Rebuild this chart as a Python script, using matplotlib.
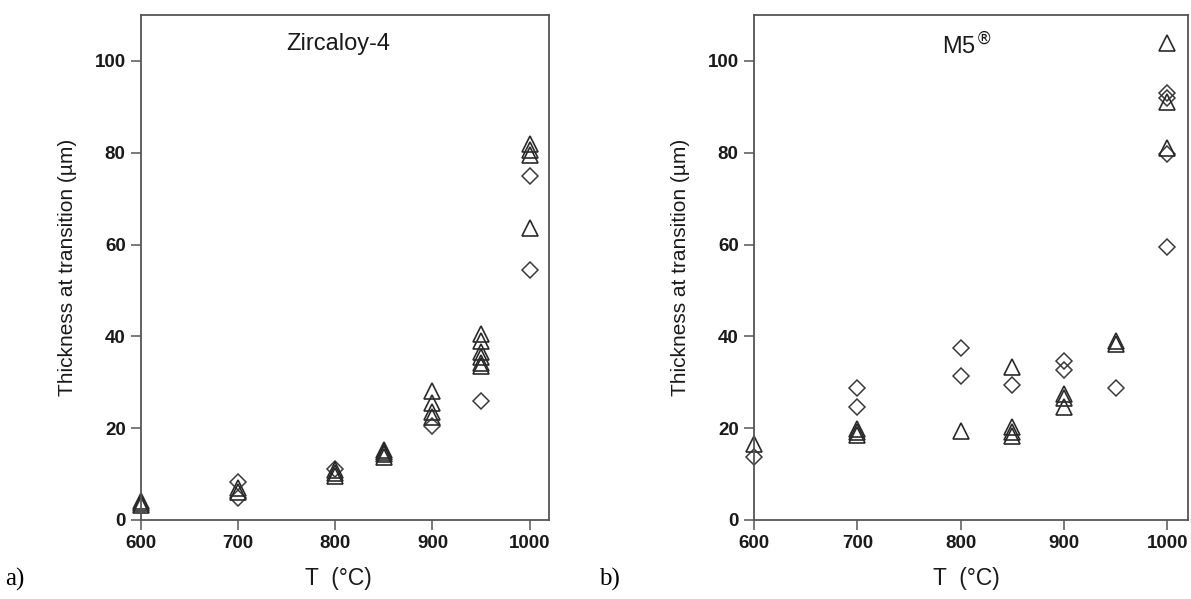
import matplotlib.pyplot as plt

plt.rcParams["font.family"] = ["Liberation Sans", "DejaVu Sans"]

# Zircaloy-4 panel
zy_tri_T = [600, 600, 600, 700, 700, 800, 800, 800, 850, 850, 850, 850,
            900, 900, 900, 900, 950, 950, 950, 950, 950, 950, 1000, 1000, 1000, 1000]
zy_tri_v = [3.2, 3.8, 4.2, 6.2, 7.0, 9.6, 10.2, 10.8, 13.8, 14.3, 14.8, 15.3,
            28.0, 25.5, 23.5, 22.5, 40.5, 39.0, 36.5, 35.5, 34.2, 33.5, 82.0, 80.5, 79.5, 63.5]
zy_dia_T = [700, 700, 800, 900, 950, 1000, 1000]
zy_dia_v = [8.2, 4.8, 11.0, 20.5, 26.0, 75.0, 54.5]

# M5 panel
m5_tri_T = [600, 700, 700, 700, 800, 850, 850, 850, 850, 900, 900, 900, 950, 950, 1000, 1000, 1000]
m5_tri_v = [16.5, 18.6, 19.2, 19.8, 19.3, 33.3, 20.3, 19.2, 18.4, 27.5, 26.5, 24.6, 38.9, 38.3,
            103.8, 91.0, 81.0]
m5_dia_T = [600, 700, 700, 800, 800, 850, 900, 900, 950, 1000, 1000, 1000, 1000]
m5_dia_v = [13.8, 28.8, 24.6, 37.5, 31.3, 29.3, 34.6, 32.6, 28.8, 93.0, 92.0, 79.8, 59.5]

panels = [
    (zy_tri_T, zy_tri_v, zy_dia_T, zy_dia_v, "Zircaloy-4", "a)", 0.483, -0.157),
    (m5_tri_T, m5_tri_v, m5_dia_T, m5_dia_v, r"M5$^{\circledR}$", "b)", 0.49, -0.147),
]

fig = plt.figure(figsize=(11.91, 5.99), dpi=100)
boxes = [[0.1184, 0.1319, 0.3426, 0.8431], [0.6331, 0.1319, 0.3644, 0.8431]]

for box, (tT, tv, dT, dv, name, tag, cx, ly) in zip(boxes, panels):
    ax = fig.add_axes(box)
    ax.plot(dT, dv, "D", ms=8.5, mfc="none", mec="#3a3a3a", mew=1.1, clip_on=False)
    ax.plot(tT, tv, "^", ms=12, mfc="none", mec="#2a2a2a", mew=1.2, clip_on=False)
    ax.set_xlim(600, 1020)
    ax.set_ylim(0, 110)
    ax.set_xticks([600, 700, 800, 900, 1000])
    ax.set_yticks([0, 20, 40, 60, 80, 100])
    for s in ax.spines.values():
        s.set_color("#555555")
        s.set_linewidth(1.3)
    ax.tick_params(direction="out", length=7, width=1.1, color="#555555",
                   labelsize=13.5, pad=4)
    for lab in ax.get_xticklabels() + ax.get_yticklabels():
        lab.set_fontweight("bold")
        lab.set_color("#1a1a1a")
    ax.set_xlabel("T  (\u00b0C)", fontsize=16.5, color="#1a1a1a")
    ax.xaxis.set_label_coords(cx, -0.094)
    ax.set_ylabel("Thickness at transition (\u00b5m)", fontsize=15, color="#1a1a1a")
    ax.yaxis.set_label_coords(ly, 0.5)
    ax.text(cx, 0.965, name, transform=ax.transAxes, ha="center", va="top",
            fontsize=17, color="#1a1a1a")
    fig.text(box[0] - (0.114 if tag == "a)" else 0.13), 0.022, tag,
             family=["Liberation Serif", "DejaVu Serif"], fontsize=18)

fig.savefig("out.png", dpi=100)
